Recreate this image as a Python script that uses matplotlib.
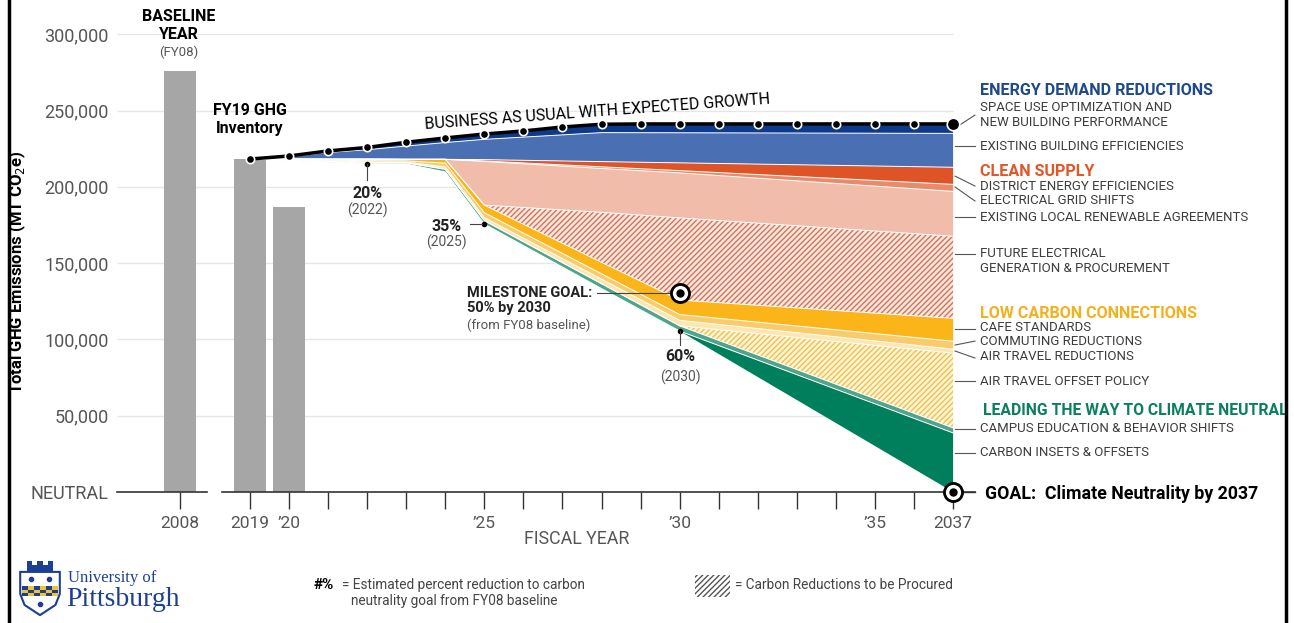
import numpy as np
import matplotlib
matplotlib.use("Agg")
import matplotlib.pyplot as plt
from matplotlib.lines import Line2D
from matplotlib.patches import Polygon, Rectangle

plt.rcParams["font.family"] = ["Roboto", "DejaVu Sans"]
plt.rcParams["hatch.linewidth"] = 1.0

# ===== data (MT CO2e) =====
bar_years = [2008, 2019, 2020]
bar_values = [276000, 218200, 186800]

bau_years = list(range(2019, 2038))
bau_values = [218200, 220200, 223500, 225800, 229200, 232000, 234600, 236600,
              239200, 241000, 241200, 241200, 241200, 241200, 241200, 241200,
              241200, 241200, 241200]

years = [2019, 2020, 2021, 2022, 2023, 2024, 2025, 2028, 2030, 2037]
net_emissions = [218200, 217200, 216200, 215200, 215000, 209700, 175600, 133300, 105500, 0]
# wedges, bottom to top
carbon_insets = [0, 0, 0, 0, 0, 0, 0, 0, 0, 38700]
campus_education = [0, 200, 400, 600, 700, 1800, 2200, 3200, 3400, 3300]
air_travel_offset = [0, 0, 0, 0, 0, 0, 0, 0, 0, 49000]
air_travel_reductions = [0, 200, 400, 500, 500, 1500, 2000, 3000, 3600, 2600]
commuting = [0, 300, 500, 800, 800, 2500, 3200, 3500, 3800, 5200]
cafe = [0, 300, 600, 1000, 1000, 2500, 5000, 7500, 9500, 15000]
future_electrical = [0, 0, 0, 0, 0, 0, 0, 32800, 53800, 53800]
existing_local = [0, 0, 0, 0, 0, 0, 28600, 28700, 29500, 29400]
grid_shifts = [0, 0, 0, 0, 0, 0, 300, 1100, 1500, 4600]
district_energy = [0, 0, 0, 0, 0, 0, 900, 3400, 5100, 11200]
existing_building = [0, 1500, 4400, 6200, 8700, 11000, 13300, 19000, 19700, 22200]
space_use = [0, 500, 1000, 1500, 2500, 3000, 3500, 5500, 5800, 6000]

milestones = [(2022, 215200, "20%", "(2022)"), (2025, 175600, "35%", "(2025)"),
              (2030, 105500, "60%", "(2030)")]
milestone_goal = (2030, 130400)
final_goal = (2037, 0)

# (data, face, hatch colour or None)
wedges = [
    (carbon_insets, "#007f5c", None),
    (campus_education, "#4ea58c", None),
    (air_travel_offset, "#fff4d6", "#efc04c"),
    (air_travel_reductions, "#fde6b0", None),
    (commuting, "#f9cb6b", None),
    (cafe, "#fbb519", None),
    (future_electrical, "#fbe6dd", "#d0755c"),
    (existing_local, "#f2bcaa", None),
    (grid_shifts, "#e98a6c", None),
    (district_energy, "#de5427", None),
    (existing_building, "#4a6fb3", None),
    (space_use, "#0d3a8c", None),
]


def bar_x(year):
    # broken axis: 2008 sits just left of the gap
    return year if year >= 2019 else 2017.2


W, H = 1294, 623
fig = plt.figure(figsize=(W / 100, H / 100), dpi=100)
ax = fig.add_axes([117 / W, 131 / H, 858 / W, 457.8 / H])
xmin, xmax = 2015.595, 2037.561
ax.set_xlim(xmin, xmax)
ax.set_ylim(0, 300000)
for s in ax.spines.values():
    s.set_visible(False)

ax.hlines(range(50000, 300001, 50000), xmin, 2037, color="#e6e6e6", lw=1, zorder=0)

ax.bar([bar_x(y) for y in bar_years], bar_values, width=0.82, color="#a6a6a6", zorder=1)

x = np.array(years)
lower = np.array(net_emissions, dtype=float)
for data, face, hcol in wedges:
    upper = lower + np.array(data)
    if hcol is None:
        ax.fill_between(x, lower, upper, facecolor=face, linewidth=0, zorder=2)
    else:
        ax.fill_between(x, lower, upper, facecolor=face, edgecolor=hcol,
                        hatch="//////", linewidth=0, zorder=2)
    ax.plot(x, upper, color="white", lw=0.7, zorder=3)
    lower = upper

ax.plot(bau_years, bau_values, color="black", lw=2.5, zorder=5)
ax.plot(bau_years[:-1], bau_values[:-1], "o", color="black", mec="white",
        mew=1.2, ms=6, zorder=6)
ax.plot(bau_years[-1], bau_values[-1], "o", color="black", mec="white",
        mew=1.2, ms=9, zorder=6, clip_on=False)

# axis line (broken)
ax.plot([xmin, 2017.9], [0, 0], color="#333333", lw=1.2, clip_on=False, zorder=4)
ax.plot([2018.28, xmax], [0, 0], color="#333333", lw=1.2, clip_on=False, zorder=4)

ax.set_yticks(range(0, 300001, 50000))
ax.set_yticklabels(["NEUTRAL", "50,000", "100,000", "150,000", "200,000",
                    "250,000", "300,000"])
ax.tick_params(axis="y", length=0, pad=6, labelsize=13, labelcolor="#555555")
xt = [bar_x(2008)] + list(range(2019, 2038))
xl = ["2008", "2019", "\u201920", "", "", "", "", "\u201925", "", "", "", "",
      "\u201930", "", "", "", "", "\u201935", "", "2037"]
ax.set_xticks(xt)
ax.set_xticklabels(xl)
ax.tick_params(axis="x", length=12, width=1, color="#333333", pad=5,
               labelsize=12.5, labelcolor="#555555")
ax.text(2027.37, -31000, "FISCAL YEAR", ha="center", va="center",
        fontsize=12.8, color="#555555", clip_on=False)
fig.text(17 / W, 1 - 272 / H, "Total GHG Emissions (MT CO$_2$e)", rotation=90,
         ha="center", va="center", fontsize=12, fontweight="bold")

# milestone dots and labels
for yr, val, pct, lab in milestones:
    ax.plot(yr, val, "o", color="black", ms=3, zorder=7)
dark = "#222222"
ax.plot([2022, 2022], [215200, 204500], color="#444444", lw=0.8, zorder=7)
ax.text(2022, 195900, "20%", ha="center", va="center", fontsize=11.5, fontweight="bold", color=dark)
ax.text(2022, 184800, "(2022)", ha="center", va="center", fontsize=10, color="#555555")
ax.plot([2024.63, 2024.95], [175600, 175600], color="#444444", lw=0.8, zorder=7)
ax.text(2024.02, 174300, "35%", ha="center", va="center", fontsize=11.5, fontweight="bold", color=dark)
ax.text(2024.04, 163800, "(2025)", ha="center", va="center", fontsize=10, color="#555555")
ax.plot([2030, 2030], [105500, 96300], color="#444444", lw=0.8, zorder=7)
ax.text(2030.01, 88500, "60%", ha="center", va="center", fontsize=11.5, fontweight="bold", color=dark)
ax.text(2030.01, 75400, "(2030)", ha="center", va="center", fontsize=10, color="#555555")

ax.plot([2027.88, 2029.8], [130400, 130400], color="#444444", lw=0.8, zorder=7)
ax.text(2024.56, 130400, "MILESTONE GOAL:", ha="left", va="center", fontsize=10.5, fontweight="bold", color=dark)
ax.text(2024.56, 120600, "50% by 2030", ha="left", va="center", fontsize=10.5, fontweight="bold", color=dark)
ax.text(2024.56, 109400, "(from FY08 baseline)", ha="left", va="center", fontsize=9.5, color="#555555")

for gx, gy in [milestone_goal, final_goal]:
    ax.plot(gx, gy, "o", ms=13, mfc="white", mec="black", mew=2, zorder=8, clip_on=False)
    ax.plot(gx, gy, "o", ms=5, color="black", zorder=9, clip_on=False)

# header annotations
ax.text(2017.18, 311300, "BASELINE", ha="center", va="center", fontsize=11.5, fontweight="bold", clip_on=False)
ax.text(2017.18, 299500, "YEAR", ha="center", va="center", fontsize=11.5, fontweight="bold", clip_on=False)
ax.text(2017.18, 288300, "(FY08)", ha="center", va="center", fontsize=9.5, color="#555555", clip_on=False)
ax.text(2019.0, 250300, "FY19 GHG", ha="center", va="center", fontsize=11.5, fontweight="bold")
ax.text(2019.0, 237900, "Inventory", ha="center", va="center", fontsize=11.5, fontweight="bold")
ax.text(2027.88, 249000, "BUSINESS AS USUAL WITH EXPECTED GROWTH", ha="center", va="center",
        fontsize=11.5, rotation=4.2, rotation_mode="anchor")

# right-hand labels
lx0, lx1, tx = 2037.05, 2037.56, 2037.69
heads = [("ENERGY DEMAND REDUCTIONS", 263400, "#1f4a8a", tx, 11.6),
         ("CLEAN SUPPLY", 209700, "#e0582a", tx, 11.6),
         ("LOW CARBON CONNECTIONS", 117300, "#f2b21e", tx, 11.6),
         ("LEADING THE WAY TO CLIMATE NEUTRAL", 53100, "#0b8060", 2037.77, 11.3)]
for txt, yv, col, hx, fs in heads:
    ax.text(hx, yv, txt, ha="left", va="center", fontsize=fs, fontweight="bold",
            color=col, clip_on=False)

labels = [("SPACE USE OPTIMIZATION AND\nNEW BUILDING PERFORMANCE", 247000, 238500, 247000),
          ("EXISTING BUILDING EFFICIENCIES", 226700, 226700, 226700),
          ("DISTRICT ENERGY EFFICIENCIES", 200500, 207000, 200500),
          ("ELECTRICAL GRID SHIFTS", 190700, 199900, 190700),
          ("EXISTING LOCAL RENEWABLE AGREEMENTS", 180200, 180200, 180200),
          ("FUTURE ELECTRICAL\nGENERATION & PROCUREMENT", 151300, 156000, 156000),
          ("CAFE STANDARDS", 107500, 106800, 106800),
          ("COMMUTING REDUCTIONS", 98300, 96300, 98900),
          ("AIR TRAVEL REDUCTIONS", 89100, 92400, 87800),
          ("AIR TRAVEL OFFSET POLICY", 72700, 72700, 72700),
          ("CAMPUS EDUCATION & BEHAVIOR SHIFTS", 41300, 41300, 41300),
          ("CARBON INSETS & OFFSETS", 25600, 25600, 25600)]
for txt, yv, y0, y1 in labels:
    ax.plot([lx0, lx1], [y0, y1], color="#555555", lw=0.8, clip_on=False)
    ax.text(tx, yv, txt, ha="left", va="center", fontsize=9.5, color="#3d3d3d",
            linespacing=1.25, clip_on=False)
ax.plot([2037.2, lx1], [0, 0], color="#333333", lw=1, clip_on=False)
ax.text(2037.82, -1300, "GOAL:  Climate Neutrality by 2037", ha="left", va="center",
        fontsize=12.8, fontweight="bold", clip_on=False)

# bottom legend
fig.text(313 / W, 1 - 585 / H, "#%", ha="left", va="center", fontsize=11, fontweight="bold")
fig.text(342 / W, 1 - 585 / H, "= Estimated percent reduction to carbon", ha="left",
         va="center", fontsize=9.8, color="#444444")
fig.text(351 / W, 1 - 601 / H, "neutrality goal from FY08 baseline", ha="left",
         va="center", fontsize=9.8, color="#444444")
fig.add_artist(Rectangle((695 / W, 1 - 597 / H), 35 / W, 22 / H, transform=fig.transFigure,
                         facecolor="white", edgecolor="#555555", hatch="//////", linewidth=0))
fig.text(735 / W, 1 - 585 / H, "= Carbon Reductions to be Procured", ha="left",
         va="center", fontsize=9.8, color="#444444")

# logo
navy = "#1c3f94"
lax = fig.add_axes([18 / W, 1 - 616 / H, 44 / W, 56 / H])
lax.set_xlim(0, 1)
lax.set_ylim(0, 1.27)
lax.axis("off")
shield = [(0.05, 1.0), (0.95, 1.0), (0.95, 0.5), (0.85, 0.25), (0.5, 0.02), (0.15, 0.25), (0.05, 0.5)]
lax.add_patch(Polygon(shield, closed=True, facecolor="white", edgecolor=navy, lw=1.5))
lax.add_patch(Rectangle((0.1, 0.45), 0.8, 0.22, facecolor="#f2c230", edgecolor="none"))
for i in range(6):
    for j in range(3):
        if (i + j) % 2 == 0:
            lax.add_patch(Rectangle((0.1 + i * 0.1333, 0.45 + j * 0.0733), 0.1333, 0.0733,
                                    facecolor=navy, edgecolor="none"))
lax.plot([0.3, 0.7], [0.83, 0.83], "o", color=navy, ms=3)
lax.plot([0.5], [0.28], "o", color=navy, ms=3)
lax.add_patch(Rectangle((0.2, 1.0), 0.6, 0.15, facecolor=navy, edgecolor="none"))
for cx in [0.2, 0.44, 0.68]:
    lax.add_patch(Rectangle((cx, 1.15), 0.12, 0.1, facecolor=navy, edgecolor="none"))
fig.text(68 / W, 1 - 578 / H, "University of", ha="left", va="center", fontsize=12,
         family="Liberation Serif", color=navy)
fig.text(66 / W, 1 - 599 / H, "Pittsburgh", ha="left", va="center", fontsize=20,
         family="Liberation Serif", color=navy)

# page border
fig.add_artist(Line2D([9 / W, 9 / W], [0, 1], color="black", lw=2.5))
fig.add_artist(Line2D([1286 / W, 1286 / W], [0, 1], color="black", lw=2.5))

fig.savefig("out.png", dpi=100, facecolor="white")
